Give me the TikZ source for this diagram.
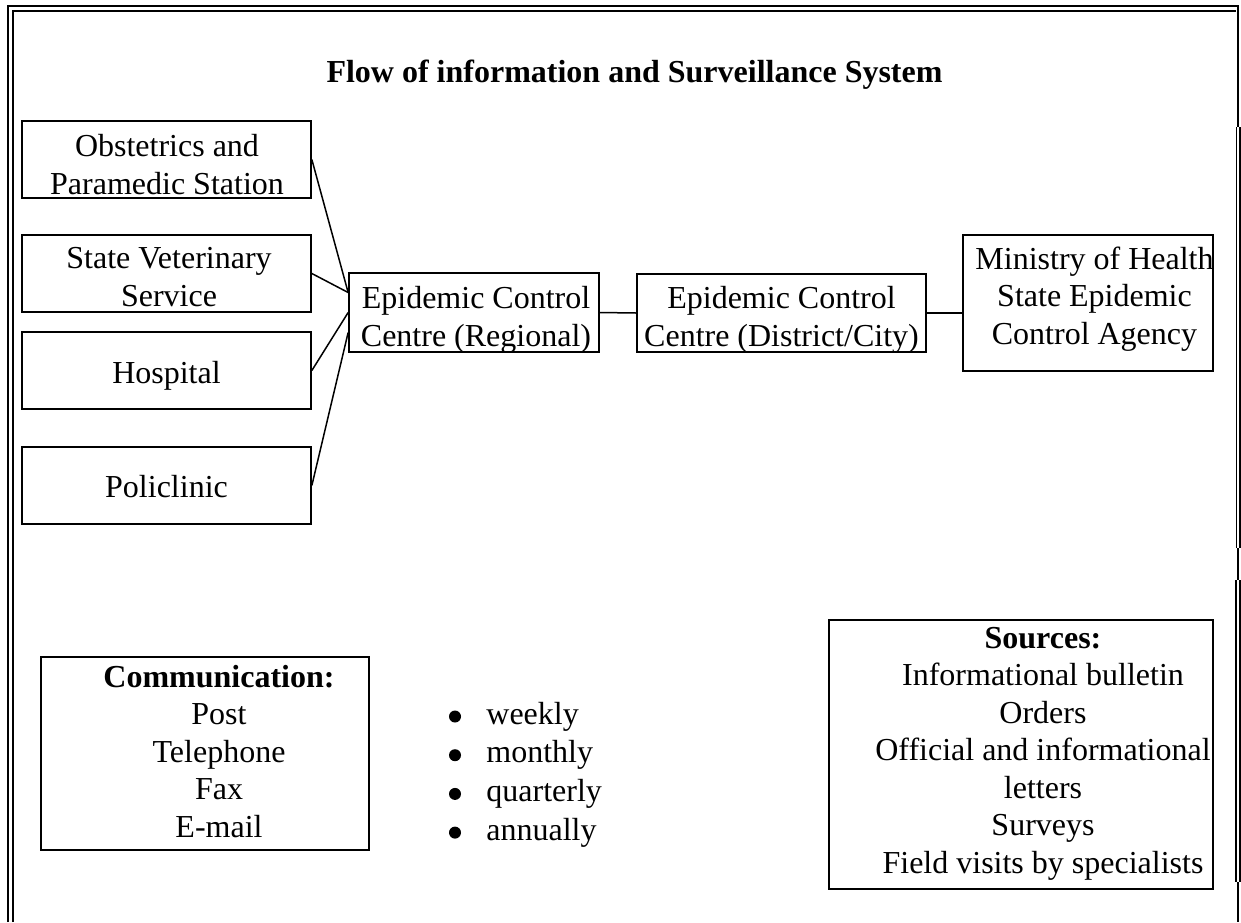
\documentclass[tikz,border=0pt]{standalone}
\usepackage{fontspec}
\setmainfont{Liberation Serif}
\tikzset{box/.style={draw, line width=0.85pt, inner sep=0pt},
  txt/.style={align=center, inner sep=0pt, anchor=base},
  link/.style={line width=0.75pt}}

\begin{document}
\begin{tikzpicture}[x=0.5pt,y=-0.5pt,font=\fontsize{16}{18.75}\selectfont]
\useasboundingbox (0,0) rectangle (1241,922);
% page border
\draw[line width=1pt] (8,922) -- (8,6) -- (1238,6) -- (1238,127);
\draw[line width=1pt] (13,922) -- (13,10.5) -- (1236,10.5);
\draw[line width=0.8pt] (1236.5,127) -- (1236.5,548) (1240,127) -- (1240,548);
\draw[line width=1pt] (1238,548) -- (1238,580);
\draw[line width=0.8pt] (1236,580) -- (1236,882) (1240,580) -- (1240,882);
\draw[line width=1pt] (1238,882) -- (1238,922);

\node[txt] (title) at (634.5,82) {\bfseries Flow of information and Surveillance System};

% sources of reports
\node[box, minimum width=144.5pt, minimum height=38.5pt] (obst) at (166.5,159.5) {};
\node[txt] (obst-t) at (167,194) {Obstetrics and\\Paramedic Station};
\node[box, minimum width=144.5pt, minimum height=38.5pt] (vet) at (166.5,273.5) {};
\node[txt] (vet-t) at (169,306) {State Veterinary\\Service};
\node[box, minimum width=144.5pt, minimum height=38.5pt] (hosp) at (166.5,370.5) {};
\node[txt] (hosp-t) at (166.5,383) {Hospital};
\node[box, minimum width=144.5pt, minimum height=38.5pt] (poli) at (166.5,485.5) {};
\node[txt] (poli-t) at (166.5,497) {Policlinic};

% centres
\node[box, minimum width=125pt, minimum height=39.5pt] (reg) at (474,312.5) {};
\node[txt] (reg-t) at (476,346) {Epidemic Control\\Centre (Regional)};
\node[box, minimum width=144.5pt, minimum height=39pt] (dist) at (781.5,313) {};
\node[txt] (dist-t) at (781.5,346) {Epidemic Control\\Centre (District/City)};
\node[box, minimum width=125pt, minimum height=68pt] (moh) at (1088,303) {};
\node[txt] (moh-t) at (1094.5,344) {Ministry of Health\\State Epidemic\\Control Agency};

\draw[link] (obst.east) -- ([yshift=10pt]reg.west);
\draw[link] (vet.east) -- ([yshift=10pt]reg.west);
\draw[link] (hosp.east) -- (reg.west);
\draw[link] (poli.east) -- ([yshift=-10pt]reg.west);
\draw[link] (reg.east) -- (dist.west);
\draw[link] (dist.east) -- (dist.east -| moh.west);

% legend
\node[box, minimum width=164pt, minimum height=96.5pt] (comm) at (205,753.5) {};
\node[txt] (comm-t) at (219,837) {\textbf{Communication:}\\Post\\Telephone\\Fax\\E-mail};
\foreach \f [count=\i] in {weekly,monthly,quarterly,annually} {
  \node[anchor=base west, inner sep=0pt] (freq\i) at (486,{724+38.7*(\i-1)}) {\f};
  \fill (455,{716.5+38.7*(\i-1)}) circle (3pt);
}
\node[box, minimum width=192pt, minimum height=134.5pt] (src) at (1021,754.5) {};
\node[txt] (src-t) at (1043,873) {\textbf{Sources:}\\Informational bulletin\\Orders\\Official and informational\\letters\\Surveys\\Field visits by specialists};
\end{tikzpicture}
\end{document}
